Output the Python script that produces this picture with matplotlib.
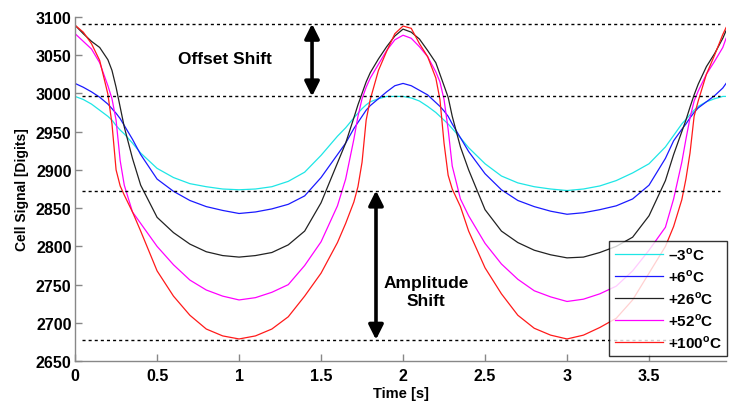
import matplotlib
matplotlib.use("Agg")
import matplotlib.pyplot as plt

plt.rcParams['font.family'] = ['Liberation Sans', 'DejaVu Sans']
plt.rcParams['font.weight'] = 'bold'
plt.rcParams['mathtext.fontset'] = 'custom'
plt.rcParams['mathtext.rm'] = 'Liberation Sans:bold'
plt.rcParams['mathtext.bf'] = 'Liberation Sans:bold'

time_s = [0, 0.05, 0.1, 0.15, 0.2, 0.225, 0.25, 0.275, 0.3, 0.35, 0.4, 0.5, 0.6, 0.7, 0.8, 0.9,
          1.0, 1.1, 1.2, 1.3, 1.4, 1.5, 1.6, 1.65, 1.7, 1.725, 1.75, 1.775, 1.8, 1.85, 1.9, 1.95, 2.0,
          2.05, 2.1, 2.15, 2.2, 2.225, 2.25, 2.275, 2.3, 2.35, 2.4, 2.5, 2.6, 2.7, 2.8, 2.9,
          3.0, 3.1, 3.2, 3.3, 3.4, 3.5, 3.6, 3.65, 3.7, 3.725, 3.75, 3.775, 3.8, 3.85, 3.9, 3.95, 3.97]

sig_m3 = [2996, 2992, 2986, 2978, 2970, 2965, 2958, 2952, 2947, 2935, 2922, 2902, 2890, 2882, 2878, 2875,
          2874, 2875, 2878, 2885, 2897, 2919, 2944, 2955, 2968, 2974, 2980, 2985, 2989, 2993, 2996, 2996, 2996,
          2994, 2990, 2983, 2975, 2970, 2965, 2960, 2954, 2942, 2929, 2908, 2892, 2883, 2878, 2875,
          2873, 2875, 2879, 2886, 2896, 2908, 2930, 2945, 2960, 2966, 2972, 2978, 2983, 2989, 2993, 2996, 2996]

sig_p6 = [3013, 3008, 3002, 2995, 2986, 2980, 2974, 2967, 2958, 2940, 2920, 2888, 2872, 2860, 2852, 2847,
          2843, 2845, 2849, 2855, 2866, 2890, 2920, 2935, 2954, 2962, 2970, 2978, 2984, 2993, 3002, 3010, 3013,
          3010, 3004, 2998, 2988, 2983, 2977, 2970, 2960, 2942, 2924, 2895, 2874, 2860, 2852, 2846,
          2842, 2844, 2848, 2853, 2862, 2880, 2915, 2938, 2953, 2960, 2968, 2975, 2981, 2989, 2997, 3007, 3013]

sig_p26 = [3089, 3078, 3068, 3060, 3044, 3030, 3008, 2982, 2956, 2915, 2880, 2838, 2818, 2803, 2793, 2788,
           2786, 2788, 2792, 2802, 2820, 2857, 2909, 2935, 2968, 2985, 3000, 3015, 3027, 3045, 3061, 3075, 3084,
           3080, 3071, 3056, 3040, 3025, 3010, 2995, 2970, 2930, 2900, 2848, 2820, 2805, 2795, 2789,
           2785, 2786, 2792, 2800, 2812, 2840, 2886, 2920, 2950, 2965, 2982, 2998, 3012, 3035, 3052, 3072, 3082]

sig_p52 = [3078, 3068, 3058, 3040, 3010, 2993, 2965, 2912, 2880, 2845, 2830, 2800, 2776, 2756, 2743, 2735,
           2730, 2733, 2740, 2750, 2775, 2806, 2853, 2888, 2940, 2970, 2993, 3008, 3020, 3038, 3056, 3070, 3076,
           3072, 3061, 3048, 3028, 3015, 2992, 2953, 2905, 2862, 2840, 2804, 2777, 2757, 2742, 2734,
           2728, 2731, 2738, 2748, 2768, 2795, 2825, 2862, 2910, 2940, 2968, 2990, 3003, 3025, 3042, 3060, 3072]

sig_p100 = [3089, 3080, 3065, 3043, 2999, 2960, 2900, 2879, 2867, 2845, 2820, 2768, 2735, 2710, 2692, 2683,
            2679, 2683, 2692, 2708, 2735, 2765, 2805, 2830, 2858, 2878, 2910, 2965, 2992, 3030, 3055, 3078, 3088,
            3085, 3065, 3048, 3020, 2992, 2935, 2893, 2875, 2852, 2820, 2772, 2738, 2710, 2693, 2684,
            2679, 2684, 2694, 2706, 2730, 2765, 2800, 2826, 2861, 2888, 2922, 2970, 2990, 3025, 3050, 3077, 3086]

series = [sig_m3, sig_p6, sig_p26, sig_p52, sig_p100]
labels = ['–3$^{\\rm o}$C', '+6$^{\\rm o}$C', '+26$^{\\rm o}$C', '+52$^{\\rm o}$C', '+100$^{\\rm o}$C']
colors = ['#1ee6e6', '#1a1aff', '#222222', '#ff00ff', '#ff1a1a']

ref_levels = [3091, 2996, 2873, 2678]
x_ticks = [0, 0.5, 1, 1.5, 2, 2.5, 3, 3.5]
x_ticklabels = ['0', '0.5', '1', '1.5', '2', '2.5', '3', '3.5']
y_ticks = [2650, 2700, 2750, 2800, 2850, 2900, 2950, 3000, 3050, 3100]

fig = plt.figure(figsize=(7.29, 4.06), dpi=100)
ax = fig.add_axes([0.103, 0.108, 0.893, 0.848])

for y, c, lab in zip(series, colors, labels):
    ax.plot(time_s, y, color=c, lw=0.9, label=lab)

for lvl in ref_levels:
    ax.plot([0.045, 3.93], [lvl, lvl], color='black', lw=1.0, ls=(0, (2.2, 2.2)))

arrow_kw = dict(arrowstyle='<|-|>', color='black', lw=2.6, mutation_scale=22, shrinkA=0, shrinkB=0)
ax.annotate('', xy=(1.445, 3091), xytext=(1.445, 2996), arrowprops=arrow_kw)
ax.annotate('', xy=(1.835, 2873), xytext=(1.835, 2678), arrowprops=arrow_kw)

ax.text(0.915, 3045, 'Offset Shift', ha='center', va='center', fontsize=12.5, fontweight='bold')
ax.text(2.14, 2741, 'Amplitude\nShift', ha='center', va='center', fontsize=12.5,
        fontweight='bold', linespacing=1.2)

ax.set_xlim(0, 3.97)
ax.set_ylim(2650, 3100)
ax.set_xticks(x_ticks)
ax.set_xticklabels(x_ticklabels)
ax.set_yticks(y_ticks)
for s in ['top', 'right']:
    ax.spines[s].set_visible(False)
for s in ['left', 'bottom']:
    ax.spines[s].set_color('#888888')
    ax.spines[s].set_linewidth(1.0)
ax.tick_params(direction='in', length=5, width=1, color='#888888', labelsize=11.5)
ax.tick_params(axis='x', pad=5)
ax.tick_params(axis='y', pad=2.5)
for lab in ax.get_xticklabels() + ax.get_yticklabels():
    lab.set_fontweight('bold')

ax.set_xlabel('Time [s]', fontsize=10.5, fontweight='bold', labelpad=2)
ax.set_ylabel('Cell Signal [Digits]', fontsize=10, fontweight='bold', labelpad=5)

leg = ax.legend(loc='lower right', bbox_to_anchor=(1.002, 0.0145), borderaxespad=0,
                fontsize=11, frameon=True, fancybox=False, handlelength=3.2,
                labelspacing=0.35, handletextpad=0.3, borderpad=0.35)
leg.get_frame().set_edgecolor('black')
leg.get_frame().set_linewidth(1.0)
for t in leg.get_texts():
    t.set_fontweight('bold')

fig.savefig('out.png', dpi=100)
